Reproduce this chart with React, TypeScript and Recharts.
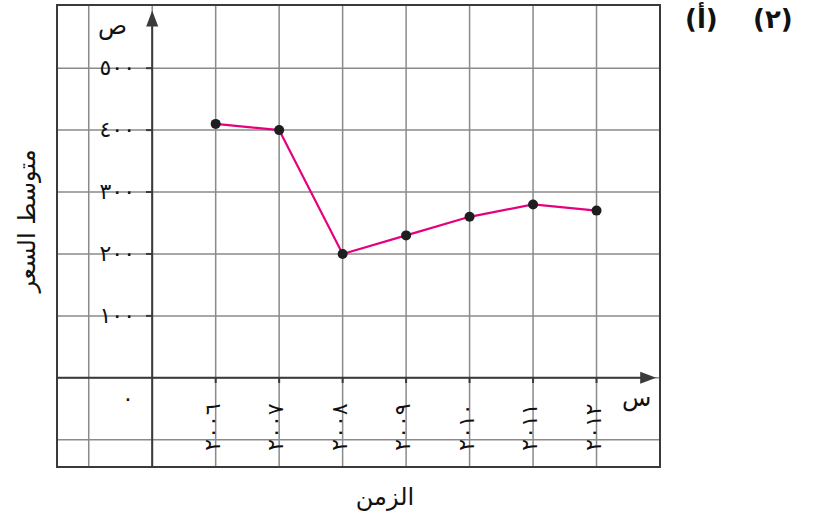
import { LineChart, Line, XAxis, YAxis, CartesianGrid, ReferenceLine, ReferenceArea } from "recharts";

const years = [2006, 2007, 2008, 2009, 2010, 2011, 2012];
const prices = [410, 400, 200, 230, 260, 280, 270];
const yearLabels = ["٢٠٠٦", "٢٠٠٧", "٢٠٠٨", "٢٠٠٩", "٢٠١٠", "٢٠١١", "٢٠١٢"];
const priceTicks = [0, 100, 200, 300, 400, 500];
const priceLabels = ["٠", "١٠٠", "٢٠٠", "٣٠٠", "٤٠٠", "٥٠٠"];
const gridYears = [2004, 2005, 2006, 2007, 2008, 2009, 2010, 2011, 2012];
const gridPrices = [-100, 0, 100, 200, 300, 400, 500];

const data = years.map((year, i) => ({ year, price: prices[i] }));

const X_MIN = 2003.5;
const X_MAX = 2013;
const Y_MIN = -144;
const Y_MAX = 602;

const FONT = "'DejaVu Sans', sans-serif";
const AXIS = "#3a3a3a";

function YTick(props: any) {
    const { x, y, payload } = props;
    const i = priceTicks.indexOf(payload.value);
    if (payload.value === 0) {
        return (
            <text x={x + 71} y={y + 28} textAnchor="middle" fontSize={22} fontFamily={FONT} fill="#111">
                {priceLabels[i]}
            </text>
        );
    }
    return (
        <g>
            <text x={x + 78} y={y} dy={7} textAnchor="end" fontSize={22} letterSpacing={7} fontFamily={FONT} fill="#111">
                {priceLabels[i]}
            </text>
            <line x1={x + 89} x2={x + 95} y1={y} y2={y} stroke={AXIS} strokeWidth={2} />
        </g>
    );
}

function XTick(props: any) {
    const { x, y, payload } = props;
    const i = years.indexOf(payload.value);
    const cx = x - 3;
    const cy = y - 40;
    return (
        <g>
            <line x1={x} x2={x} y1={y - 89} y2={y - 84} stroke={AXIS} strokeWidth={2} />
            <text
                x={cx}
                y={cy}
                dy={7}
                textAnchor="middle"
                fontSize={22}
                letterSpacing={5}
                fontFamily={FONT}
                fill="#111"
                transform={`rotate(-90, ${cx}, ${cy})`}
            >
                {yearLabels[i]}
            </text>
        </g>
    );
}

function ArrowUp(props: any) {
    const { x1, y1, x2, y2 } = props;
    const top = Math.min(y1, y2);
    const bottom = Math.max(y1, y2);
    return (
        <g>
            <line x1={x1} x2={x2} y1={bottom} y2={top + 10} stroke={AXIS} strokeWidth={2} />
            <path d={`M${x1},${top} L${x1 - 6},${top + 16} L${x1 + 6},${top + 16} Z`} fill={AXIS} />
        </g>
    );
}

function ArrowRight(props: any) {
    const { x1, y1, x2, y2 } = props;
    const left = Math.min(x1, x2);
    const right = Math.max(x1, x2);
    return (
        <g>
            <line x1={left} x2={right - 10} y1={y1} y2={y2} stroke={AXIS} strokeWidth={2} />
            <path d={`M${right},${y1} L${right - 16},${y1 - 6} L${right - 16},${y1 + 6} Z`} fill={AXIS} />
        </g>
    );
}

const txt = (extra: React.CSSProperties): React.CSSProperties => ({
    position: "absolute",
    fontFamily: FONT,
    color: "#111",
    whiteSpace: "nowrap",
    lineHeight: 1,
    ...extra,
});

export default function App() {
    return (
        <div style={{ position: "absolute", left: 0, top: 0, width: 815, height: 518, background: "#fff" }}>
            <LineChart width={815} height={518} data={data} margin={{ top: 5, right: 155, bottom: 50, left: 56 }}>
                <XAxis
                    type="number"
                    dataKey="year"
                    domain={[X_MIN, X_MAX]}
                    ticks={years}
                    interval={0}
                    height={1}
                    tickSize={0}
                    tickMargin={0}
                    axisLine={false}
                    tickLine={false}
                    tick={<XTick />}
                    allowDataOverflow
                />
                <YAxis
                    type="number"
                    domain={[Y_MIN, Y_MAX]}
                    ticks={priceTicks}
                    interval={0}
                    width={1}
                    tickSize={0}
                    tickMargin={0}
                    axisLine={false}
                    tickLine={false}
                    tick={<YTick />}
                    allowDataOverflow
                />
                <CartesianGrid
                    horizontalValues={gridPrices}
                    verticalValues={gridYears}
                    stroke="#8a8a8a"
                    strokeWidth={1.5}
                />
                <ReferenceArea x1={X_MIN} x2={X_MAX} y1={Y_MIN} y2={Y_MAX} fill="none" stroke={AXIS} strokeWidth={2} />
                <ReferenceLine
                    segment={[{ x: 2005, y: Y_MIN }, { x: 2005, y: 593 }]}
                    shape={<ArrowUp />}
                />
                <ReferenceLine
                    segment={[{ x: X_MIN, y: 0 }, { x: 2012.94, y: 0 }]}
                    shape={<ArrowRight />}
                />
                <Line
                    type="linear"
                    dataKey="price"
                    stroke="#e5007e"
                    strokeWidth={2.2}
                    dot={{ r: 5, fill: "#1e1e1e", stroke: "#1e1e1e", strokeWidth: 0 }}
                    isAnimationActive={false}
                />
            </LineChart>
            <div style={txt({ left: 98, top: 14, fontSize: 24 })}>ص</div>
            <div style={txt({ left: 622, top: 386, fontSize: 24 })}>س</div>
            <div style={txt({ left: 685, top: 6, fontSize: 26, fontWeight: "bold" })}>(أ)</div>
            <div style={txt({ left: 753, top: 6, fontSize: 26, fontWeight: "bold" })}>(٢)</div>
            <div style={txt({ left: 385, top: 497, fontSize: 24, transform: "translate(-50%, -50%)" })}>الزمن</div>
            <div
                style={txt({
                    left: 27,
                    top: 221,
                    fontSize: 24,
                    transform: "translate(-50%, -50%) rotate(-90deg)",
                })}
            >
                متوسط السعر
            </div>
        </div>
    );
}
